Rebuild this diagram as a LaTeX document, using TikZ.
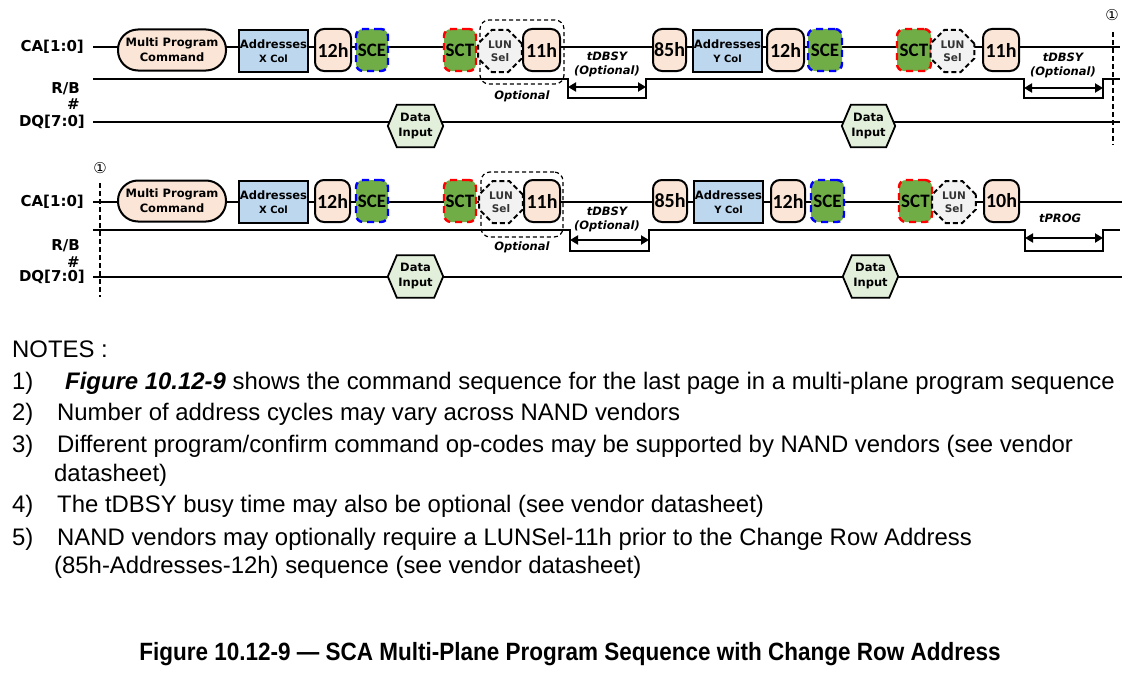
\documentclass[tikz,border=0pt]{standalone}
\usepackage{fontspec}
\setmainfont{Liberation Sans}
\newfontfamily\dv{DejaVu Sans}[ItalicFont={DejaVu Sans Oblique},BoldFont={DejaVu Sans Bold},BoldItalicFont={DejaVu Sans Bold Oblique}]
\newfontfamily\cbr{Carlito}
\usetikzlibrary{arrows.meta,shapes.misc,backgrounds}
\definecolor{peach}{HTML}{FBE5D6}
\definecolor{addrblue}{HTML}{BDD7EE}
\definecolor{scgreen}{HTML}{70AD47}
\definecolor{sceblue}{HTML}{0000FF}
\definecolor{sctred}{HTML}{FF0000}
\definecolor{lungray}{HTML}{F2F2F2}
\definecolor{hexgreen}{HTML}{E2EFDA}
\definecolor{luntext}{HTML}{333333}
\newcommand\el[6]{\node[#1, minimum width={(#4)-(#3)}] (#2) at ({((#3)+(#4))/2}, #5) {#6};}
\newcommand\hexbg[1]{\begin{scope}[on background layer]\draw[hexshape] (#1.west) -- ([xshift=9pt]#1.north west) -- ([xshift=-9pt]#1.north east) -- (#1.east) -- ([xshift=-9pt]#1.south east) -- ([xshift=9pt]#1.south west) -- cycle;\end{scope}}
\begin{document}
\begin{tikzpicture}[x=1pt,y=-1pt,
 sig/.style={line width=2pt},
 lbl/.style={font=\dv\bfseries\fontsize{15}{17}\selectfont, anchor=east, align=right, inner sep=0},
 cmd/.style={draw, line width=2pt, fill=peach, rounded corners=9pt, minimum height=42pt, inner sep=0, font=\cbr\bfseries\fontsize{20}{22}\selectfont},
 mpc/.style={draw, line width=2pt, fill=peach, rounded corners=20pt, minimum height=41pt, inner sep=0, align=center, font=\dv\bfseries\fontsize{11.5}{15}\selectfont},
 addr/.style={draw, line width=2.2pt, fill=addrblue, minimum height=42pt, inner sep=0, align=center, font=\dv\bfseries\fontsize{11.5}{14}\selectfont},
 sc/.style={fill=scgreen, rounded corners=7pt, line width=2.4pt, dash pattern=on 7pt off 5pt, minimum height=42pt, inner sep=0, font=\cbr\bfseries\fontsize{19}{21}\selectfont},
 sce/.style={sc, draw=sceblue},
 sct/.style={sc, draw=sctred},
 lun/.style={chamfered rectangle, chamfered rectangle xsep=10pt, draw, dash pattern=on 5pt off 3pt, fill=lungray, line width=2pt, minimum height=42pt, inner sep=0, align=center, text=luntext, font=\dv\bfseries\fontsize{10.5}{13}\selectfont},
 optbox/.style={draw, dash pattern=on 4pt off 3pt, line width=1.2pt, rounded corners=9pt, inner sep=0},
 ital/.style={font=\dv\bfseries\itshape\fontsize{11.5}{14}\selectfont, align=center, inner sep=0},
 datain/.style={minimum height=42pt, inner sep=0, align=center, font=\dv\bfseries\fontsize{11.5}{15}\selectfont},
 hexshape/.style={draw, fill=hexgreen, line width=1.8pt},
 vdash/.style={dash pattern=on 5pt off 3pt, line width=1.3pt},
 arr/.style={{Triangle[length=8pt,width=9pt]}-{Triangle[length=8pt,width=9pt]}, line width=2pt},
 circ/.style={font=\dv\fontsize{15}{17}\selectfont, inner sep=0},
 note/.style={anchor=base west, inner sep=0, font=\fontsize{23.9}{28}\selectfont}
]
\useasboundingbox (0,0) rectangle (1131,677);

% ---------------- Row A ----------------
\begin{scope}[on background layer]
\coordinate (caAs) at (93,47); \coordinate (caAe) at (1120,47);
\draw[sig] (caAs) -- (caAe);
\coordinate (rbAs) at (93,79); \coordinate (rbAe) at (1120,79);
\draw[sig] (rbAs) -- (568,79) -- (568,98) -- (646,98) -- (646,79) -- (1024,79) -- (1024,98) -- (1103,98) -- (1103,79) -- (rbAe);
\coordinate (dqAs) at (93,122); \coordinate (dqAe) at (1120,122);
\draw[sig] (dqAs) -- (dqAe);
\end{scope}
\node[lbl] (caA) at (84,47) {CA[1:0]};
\node[lbl, font=\dv\bfseries\fontsize{15}{16}\selectfont] (rbA) at (80,96) {R/B\\\#};
\node[lbl] (dqA) at (85,122) {DQ[7:0]};

\el{mpc}{mpcA}{118}{226}{50}{Multi Program\\Command}
\el{addr}{adxA}{239}{308}{51}{Addresses\\{\fontsize{10}{12}\selectfont X Col}}
\el{cmd}{c12A}{315}{351}{50}{12h}
\el{sce}{sceA}{356}{388}{50}{SCE}
\el{sct}{sctA}{444}{476}{50}{SCT}
\node[optbox, minimum width=84pt, minimum height=64pt] (optA) at (522,52) {};
\el{lun}{lunA}{483}{517}{51}{LUN\\Sel}
\el{cmd}{c11A}{523}{560}{50}{11h}
\el{cmd}{c85A}{653}{686}{50}{85h}
\el{addr}{adyA}{693}{762}{51}{Addresses\\{\fontsize{10}{12}\selectfont Y Col}}
\el{cmd}{c12B}{767}{804}{50}{12h}
\el{sce}{sceB}{808}{842}{50}{SCE}
\el{sct}{sctB}{897}{931}{50}{SCT}
\el{lun}{lunB}{935}{970}{51}{LUN\\Sel}
\el{cmd}{c11B}{983}{1019}{50}{11h}

\node[ital] (optlA) at (522,96) {Optional};
\node[ital] (tdA1) at (607,64) {tDBSY\\(Optional)};
\coordinate (arA1l) at (568,87); \coordinate (arA1r) at (646,87);
\draw[arr] (arA1l) -- (arA1r);
\node[ital] (tdA2) at (1063,65) {tDBSY\\(Optional)};
\coordinate (arA2l) at (1024,88); \coordinate (arA2r) at (1103,88);
\draw[arr] (arA2l) -- (arA2r);

\el{datain}{diA1}{388}{443}{126}{Data\\Input}
\hexbg{diA1}
\el{datain}{diA2}{842}{895}{126}{Data\\Input}
\hexbg{diA2}

\coordinate (vA1) at (1113,32); \coordinate (vA2) at (1113,145);
\draw[vdash] (vA1) -- (vA2);
\node[circ] (cA) at (1112,15) {①};

% ---------------- Row B ----------------
\begin{scope}[on background layer]
\coordinate (caBs) at (93,202); \coordinate (caBe) at (1122,202);
\draw[sig] (caBs) -- (caBe);
\coordinate (rbBs) at (93,230); \coordinate (rbBe) at (1120,230);
\draw[sig] (rbBs) -- (570,230) -- (570,251) -- (649,251) -- (649,230) -- (1025,230) -- (1025,251) -- (1103,251) -- (1103,230) -- (rbBe);
\coordinate (dqBs) at (93,277); \coordinate (dqBe) at (1122,277);
\draw[sig] (dqBs) -- (dqBe);
\end{scope}
\node[lbl] (caB) at (84,202) {CA[1:0]};
\node[lbl, font=\dv\bfseries\fontsize{15}{17}\selectfont] (rbB) at (80,254) {R/B\\\#};
\node[lbl] (dqB) at (85,277) {DQ[7:0]};

\el{mpc}{mpcB}{118}{226}{201}{Multi Program\\Command}
\el{addr}{adxB}{239}{308}{202}{Addresses\\{\fontsize{10}{12}\selectfont X Col}}
\el{cmd}{c12C}{315}{350}{201}{12h}
\el{sce}{sceC}{356}{388}{201}{SCE}
\el{sct}{sctC}{444}{476}{201}{SCT}
\node[optbox, minimum width=82pt, minimum height=65pt] (optB) at (522,204.5) {};
\el{lun}{lunC}{484}{518}{202}{LUN\\Sel}
\el{cmd}{c11C}{524}{560}{201}{11h}
\el{cmd}{c85C}{653}{687}{201}{85h}
\el{addr}{adyB}{694}{763}{202}{Addresses\\{\fontsize{10}{12}\selectfont Y Col}}
\el{cmd}{c12D}{771}{805}{201}{12h}
\el{sce}{sceD}{811}{844}{201}{SCE}
\el{sct}{sctD}{899}{932}{201}{SCT}
\el{lun}{lunD}{937}{971}{202}{LUN\\Sel}
\el{cmd}{c10D}{984}{1019}{201}{10h}

\node[ital] (optlB) at (522,247) {Optional};
\node[ital] (tdB1) at (607,219.5) {tDBSY\\(Optional)};
\coordinate (arB1l) at (570,240); \coordinate (arB1r) at (649,240);
\draw[arr] (arB1l) -- (arB1r);
\node[ital] (tpB) at (1060,218) {tPROG};
\coordinate (arB2l) at (1025,238); \coordinate (arB2r) at (1103,238);
\draw[arr] (arB2l) -- (arB2r);

\el{datain}{diB1}{388}{443}{276.5}{Data\\Input}
\hexbg{diB1}
\el{datain}{diB2}{843}{898}{276.5}{Data\\Input}
\hexbg{diB2}

\coordinate (vB1) at (100,183); \coordinate (vB2) at (100,297);
\draw[vdash] (vB1) -- (vB2);
\node[circ] (cB) at (100,168) {①};

% ---------------- Notes ----------------
\node[note] (n0) at (12,357) {NOTES :};
\node[note] (n1a) at (12,389) {1)};
\node[note] (n1b) at (65,389) {\textbf{\textit{Figure 10.12-9}} shows the command sequence for the last page in a multi-plane program sequence};
\node[note] (n2a) at (12,420) {2)};
\node[note] (n2b) at (57,420) {Number of address cycles may vary across NAND vendors};
\node[note] (n3a) at (12,452) {3)};
\node[note] (n3b) at (57,452) {Different program/confirm command op-codes may be supported by NAND vendors (see vendor};
\node[note] (n3c) at (54,481) {datasheet)};
\node[note] (n4a) at (12,512) {4)};
\node[note] (n4b) at (57,512) {The tDBSY busy time may also be optional (see vendor datasheet)};
\node[note] (n5a) at (12,545) {5)};
\node[note] (n5b) at (57,545) {NAND vendors may optionally require a LUNSel-11h prior to the Change Row Address};
\node[note] (n5c) at (54,573) {(85h-Addresses-12h) sequence (see vendor datasheet)};

\node[anchor=base, inner sep=0] (cap) at (570,660) {\scalebox{0.9}[1]{\bfseries\fontsize{25}{28}\selectfont Figure 10.12-9 — SCA Multi-Plane Program Sequence with Change Row Address}};
\end{tikzpicture}
\end{document}
